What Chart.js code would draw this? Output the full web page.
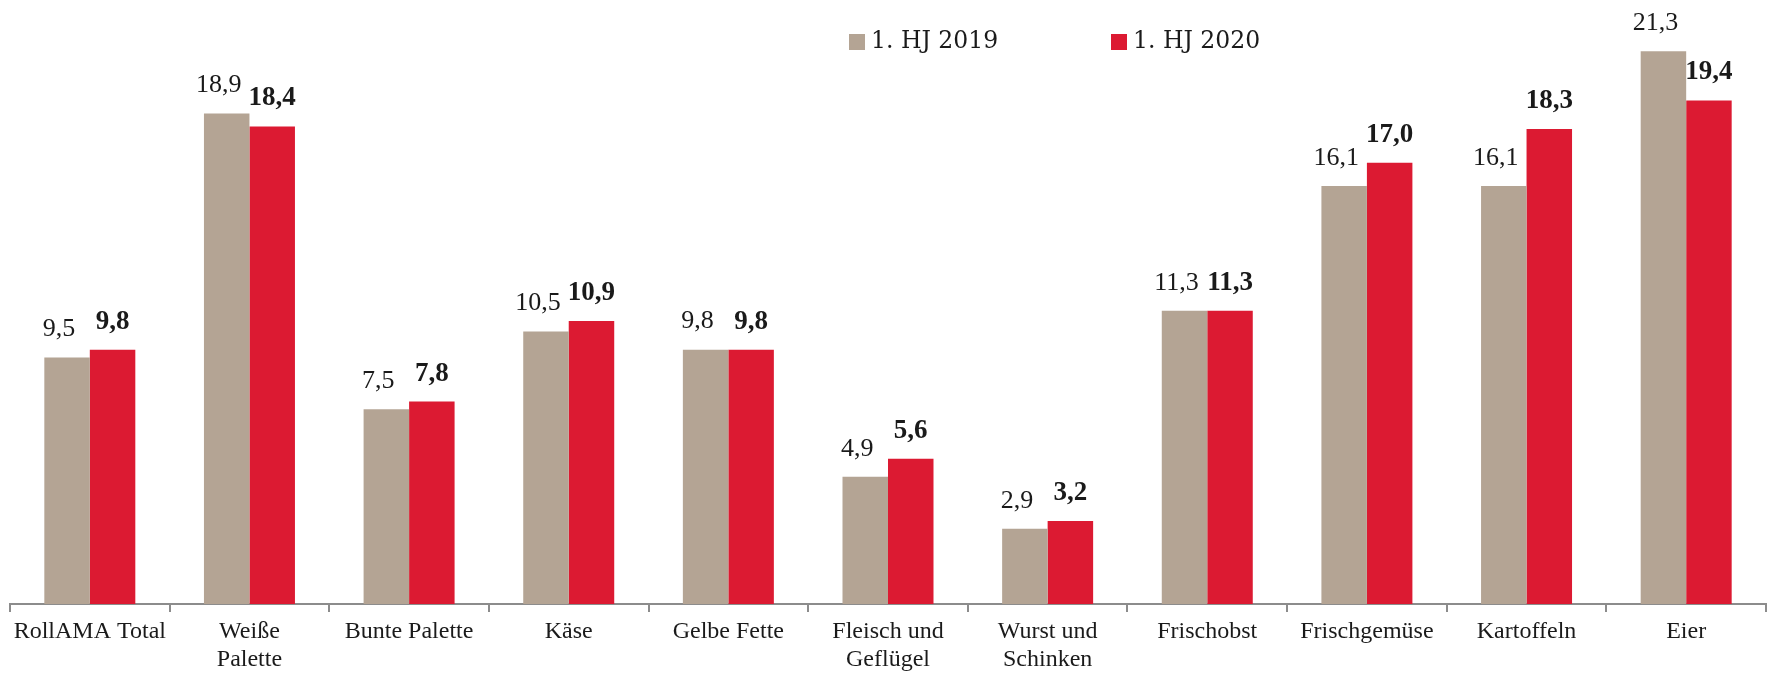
<!DOCTYPE html>
<html>
<head>
<meta charset="utf-8">
<script src="https://cdn.jsdelivr.net/npm/chart.js@4/dist/chart.umd.min.js"></script>
<style>
  html, body { margin: 0; padding: 0; background: #fff; }
  #wrap { width: 1772px; height: 673px; }
</style>
</head>
<body>
<div id="wrap"><canvas id="chart_hj"></canvas></div>
<script>
const categories = [
  "RollAMA Total",
  ["Weiße", "Palette"],
  "Bunte Palette",
  "Käse",
  "Gelbe Fette",
  ["Fleisch und", "Geflügel"],
  ["Wurst und", "Schinken"],
  "Frischobst",
  "Frischgemüse",
  "Kartoffeln",
  "Eier",
];
const hj2019 = [9.5, 18.9, 7.5, 10.5, 9.8, 4.9, 2.9, 11.3, 16.1, 16.1, 21.3];
const hj2020 = [9.8, 18.4, 7.8, 10.9, 9.8, 5.6, 3.2, 11.3, 17.0, 18.3, 19.4];
const seriesLabels = ["1. HJ 2019", "1. HJ 2020"];

const GRAY = "#b4a494";
const RED = "#dc1a32";
const AXIS = "#8c8c8c";

// values above the bars, 2020 in bold
// (2019 labels sit a bit left of their bar in the original)
const valueLabels = {
  id: "valueLabels",
  afterDatasetsDraw(chart) {
    const { ctx } = chart;
    ctx.save();
    ctx.textAlign = "center";
    ctx.textBaseline = "middle";
    ctx.fillStyle = "#1a1a1a";
    chart.data.datasets.forEach((ds, i) => {
      const meta = chart.getDatasetMeta(i);
      ctx.font = i === 1 ? "bold 27px 'Liberation Serif'" : "26px 'Liberation Serif'";
      const dx = i === 0 ? -8 : 0;
      meta.data.forEach((bar, j) => {
        const txt = ds.data[j].toFixed(1).replace(".", ",");
        ctx.fillText(txt, bar.x + dx, bar.y - 28);
      });
    });
    ctx.restore();
  },
};

// legend drawn over the plot, like in the original
const topLegend = {
  id: "topLegend",
  afterDraw(chart) {
    const { ctx } = chart;
    const xs = [849, 1111];
    ctx.save();
    ctx.font = "23.5px 'DejaVu Serif'";
    ctx.textBaseline = "middle";
    ctx.textAlign = "left";
    chart.data.datasets.forEach((ds, i) => {
      ctx.fillStyle = ds.backgroundColor;
      ctx.fillRect(xs[i], 34, 16, 16);
      ctx.fillStyle = "#1a1a1a";
      ctx.fillText(ds.label, xs[i] + 22, 42);
    });
    ctx.restore();
  },
};

const chart_hj = new Chart(document.getElementById("chart_hj"), {
  type: "bar",
  data: {
    labels: categories,
    datasets: [
      {
        label: seriesLabels[0],
        data: hj2019,
        backgroundColor: GRAY,
        categoryPercentage: 0.57,
        barPercentage: 1.0,
      },
      {
        label: seriesLabels[1],
        data: hj2020,
        backgroundColor: RED,
        categoryPercentage: 0.57,
        barPercentage: 1.0,
      },
    ],
  },
  options: {
    responsive: true,
    maintainAspectRatio: false,
    animation: false,
    layout: { padding: { left: 10, right: 6, top: 7, bottom: 0 } },
    scales: {
      y: {
        display: false,
        min: 0,
        max: 23,
      },
      x: {
        afterFit(scale) {
          scale.height = 69;
        },
        grid: {
          display: true,
          drawOnChartArea: false,
          color: AXIS,
          tickLength: 8,
          lineWidth: 2,
        },
        border: { display: true, color: AXIS, width: 2 },
        ticks: {
          color: "#1a1a1a",
          padding: 6,
          maxRotation: 0,
          autoSkip: false,
          font: { family: "'Liberation Serif'", size: 24, lineHeight: 1.15 },
        },
      },
    },
    plugins: {
      legend: { display: false },
      tooltip: { enabled: false },
    },
  },
  plugins: [valueLabels, topLegend],
});
</script>
</body>
</html>
